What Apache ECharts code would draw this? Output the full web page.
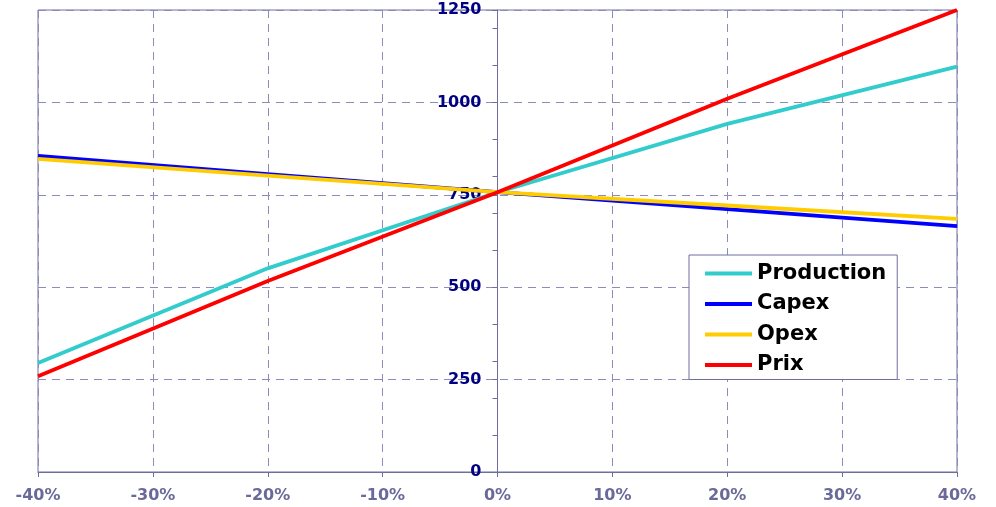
<!DOCTYPE html>
<html>
<head>
<meta charset="utf-8">
<style>
  html, body { margin: 0; padding: 0; background: #fff; }
  #chart { width: 996px; height: 507px; }
</style>
<script src="https://cdn.jsdelivr.net/npm/echarts@6/dist/echarts.min.js"></script>
</head>
<body>
<div id="chart"></div>
<script>
// variation (%) et valeurs
const variations = [-40, -20, 0, 20, 40];
const production = [295, 551, 757, 942, 1097];
const capex = [855, 806, 757, 711, 665];
const opex = [847, 802, 757, 721, 685];
const prix = [259, 517, 757, 1010, 1250];

const axisColor = '#6E6E9E';
const gridColor = '#8C8CBC';
const font = 'DejaVu Sans';

const chartDom = document.getElementById('chart');
const myChart = echarts.init(chartDom);

function pairs(values) {
    return variations.map((x, i) => [x, values[i]]);
}

function lineSeries(name, values, color) {
    return {
        name: name,
        type: 'line',
        data: pairs(values),
        showSymbol: false,
        symbol: 'none',
        lineStyle: { width: 3.8, color: color },
        itemStyle: { color: color },
        animation: false
    };
}

const option = {
    animation: false,
    grid: {
        left: 38,
        right: 39,
        top: 10,
        bottom: 35,
        show: true,
        borderColor: axisColor,
        borderWidth: 1
    },
    legend: {
        orient: 'vertical',
        left: 689,
        top: 255,
        itemWidth: 47,
        itemHeight: 4,
        itemGap: 9.5,
        icon: 'rect',
        padding: [8, 11, 4, 16],
        borderColor: axisColor,
        borderWidth: 1,
        backgroundColor: '#fff',
        textStyle: {
            fontFamily: font,
            fontWeight: 'bold',
            fontSize: 21,
            color: '#000'
        },
        data: ['Production', 'Capex', 'Opex', 'Prix']
    },
    xAxis: {
        type: 'value',
        min: -40,
        max: 40,
        interval: 10,
        axisLine: { onZero: false, lineStyle: { color: axisColor, width: 1 } },
        axisTick: { show: true, length: 5, lineStyle: { color: axisColor } },
        axisLabel: {
            formatter: '{value}%',
            margin: 16,
            fontFamily: font,
            fontWeight: 'bold',
            fontSize: 16,
            color: '#6A6A9A'
        },
        splitLine: { show: true, lineStyle: { color: gridColor, type: [8, 6], width: 1 } }
    },
    yAxis: [{
        type: 'value',
        min: 0,
        max: 1250,
        interval: 250,
        position: 'left',
        offset: -459.5,
        axisLine: { show: true, onZero: false, lineStyle: { color: axisColor, width: 1 } },
        axisTick: { show: true, length: 5, lineStyle: { color: axisColor } },
        axisLabel: {
            formatter: function (v) { return String(v); },
            margin: 16,
            fontFamily: font,
            fontWeight: 'bold',
            fontSize: 16,
            color: '#000080'
        },
        splitLine: { show: true, lineStyle: { color: gridColor, type: [8, 6], width: 1 } }
    }, {
        type: 'value',
        min: 0,
        max: 1250,
        interval: 100,
        position: 'left',
        offset: -459.5,
        axisLine: { show: false, onZero: false },
        axisTick: { show: true, length: 5, lineStyle: { color: axisColor } },
        axisLabel: { show: false },
        splitLine: { show: false }
    }],
    series: [
        lineSeries('Production', production, '#33CCCC'),
        lineSeries('Capex', capex, '#0000FF'),
        lineSeries('Opex', opex, '#FFCC00'),
        lineSeries('Prix', prix, '#FF0000')
    ]
};

myChart.setOption(option);

window.addEventListener('resize', function() {
    myChart.resize();
});
</script>
</body>
</html>
